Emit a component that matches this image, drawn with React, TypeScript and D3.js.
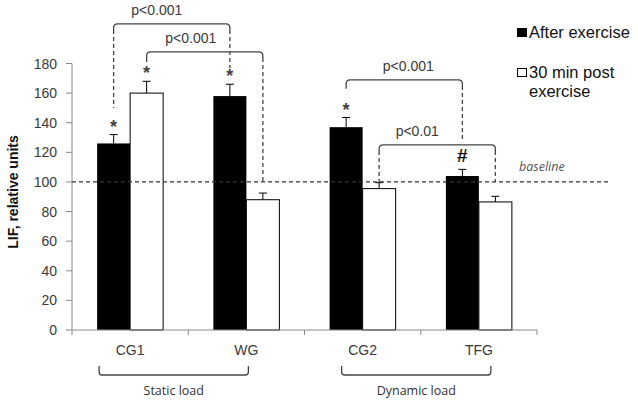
import React from "react";
import * as d3 from "d3";

const categories = ["CG1", "WG", "CG2", "TFG"];
const seriesNames = ["After exercise", "30 min post exercise"];
const afterExercise = [126, 158, 137, 104];
const afterExerciseErr = [6, 8, 6.5, 4.5];
const postExercise = [160, 88, 95.5, 86.5];
const postExerciseErr = [8, 4.5, 4, 3.8];
const yTicks = [0, 20, 40, 60, 80, 100, 120, 140, 160, 180];
const baselineValue = 100;

// comparison brackets: [category, series] endpoints, level & end values in data units
const bracketLabels = ["p<0.001", "p<0.001", "p<0.001", "p<0.01"];
const bracketFrom = [[0, 0], [0, 1], [2, 0], [2, 1]];
const bracketTo = [[1, 0], [1, 1], [3, 0], [3, 1]];
const bracketLevel = [206.7, 187.8, 168.9, 125];
const bracketFromEnd = [150, 181, 163, 100];
const bracketToEnd = [177, 100, 127, 100];

// significance markers: [category, series, symbol]
const markerCats = [0, 0, 1, 2, 3];
const markerSeries = [0, 1, 0, 0, 0];
const markerSymbols = ["*", "*", "*", "*", "#"];

const groupLabels = ["Static load", "Dynamic load"];
const groupFrom = [0, 2];
const groupTo = [1, 3];

const W = 638, H = 401;
const M = { left: 72, right: 537, top: 63.5, bottom: 330 };
const AXIS = "#8a8a8a";
const INK = "#3a3a3a";
const FONT = "'Liberation Sans', Arial, sans-serif";
const FONT2 = "'Open Sans', 'DejaVu Sans', sans-serif";

export default function App() {
  const x = d3.scaleBand<string>().domain(categories).range([M.left, M.right]).padding(0);
  const barW = 33;
  const xs = d3.scaleBand<number>().domain([0, 1]).range([-barW, barW]).padding(0);
  const y = d3.scaleLinear().domain([0, 180]).range([M.bottom, M.top]);

  const values = [afterExercise, postExercise];
  const errs = [afterExerciseErr, postExerciseErr];
  const barX = (c: number, s: number) => (x(categories[c]) as number) + x.bandwidth() / 2 + (xs(s) as number);
  const barCx = (c: number, s: number) => barX(c, s) + xs.bandwidth() / 2;

  const textDx = [-15, -14, 4, -20];
  const groupDx = [[-31, 2], [-21, 12]];

  return (
    <svg width={W} height={H} style={{ position: "absolute", left: 0, top: 0, background: "#fff" }}>
      <rect x={0} y={0} width={W} height={H} fill="#fff" />
      {/* y axis */}
      <line x1={M.left} x2={M.left} y1={y(180)} y2={y(0)} stroke={AXIS} strokeWidth={1} />
      {yTicks.map((t) => (
        <g key={t}>
          <line x1={M.left - 6} x2={M.left} y1={y(t)} y2={y(t)} stroke={AXIS} />
          <text x={57} y={y(t)} dy="0.36em" textAnchor="end" fontFamily={FONT} fontSize={14} fill={INK}>
            {t}
          </text>
        </g>
      ))}
      <text
        transform={`translate(18,192) rotate(-90)`}
        textAnchor="middle"
        fontFamily={FONT}
        fontSize={14}
        fontWeight="bold"
        fill="#111"
      >
        LIF, relative units
      </text>

      {/* bars */}
      {values.map((vals, s) =>
        vals.map((v, c) => (
          <rect
            key={`b${s}-${c}`}
            x={barX(c, s)}
            y={y(v)}
            width={xs.bandwidth()}
            height={y(0) - y(v)}
            fill={s === 0 ? "#000" : "#fff"}
            stroke="#000"
            strokeWidth={s === 0 ? 0 : 1}
          />
        ))
      )}
      {/* error bars */}
      {values.map((vals, s) =>
        vals.map((v, c) => {
          const cx = barCx(c, s);
          const top = y(v + errs[s][c]);
          return (
            <g key={`e${s}-${c}`} stroke="#000" strokeWidth={1}>
              <line x1={cx} x2={cx} y1={y(v)} y2={top} />
              <line x1={cx - 4} x2={cx + 4} y1={top} y2={top} />
            </g>
          );
        })
      )}

      {/* x axis */}
      <line x1={M.left} x2={M.right} y1={y(0)} y2={y(0)} stroke={AXIS} />
      {d3.range(categories.length + 1).map((i) => {
        const xx = M.left + i * x.bandwidth();
        return <line key={i} x1={xx} x2={xx} y1={y(0)} y2={y(0) + 5} stroke={AXIS} />;
      })}
      {categories.map((c) => (
        <text
          key={c}
          x={(x(c) as number) + x.bandwidth() / 2}
          y={355}
          textAnchor="middle"
          fontFamily={FONT}
          fontSize={14}
          fill={INK}
        >
          {c}
        </text>
      ))}

      {/* baseline */}
      <line x1={M.left} x2={610} y1={y(baselineValue)} y2={y(baselineValue)} stroke="#333" strokeWidth={1.2} strokeDasharray="4,3" />
      <text x={519} y={171} fontFamily={FONT2} fontStyle="italic" fontSize={12.5} fill="#555">
        baseline
      </text>

      {/* comparison brackets */}
      {bracketLabels.map((lab, i) => {
        const x1 = barCx(bracketFrom[i][0], bracketFrom[i][1]);
        const x2 = barCx(bracketTo[i][0], bracketTo[i][1]);
        const yl = y(bracketLevel[i]);
        const r = 4;
        const e1 = y(bracketFromEnd[i]);
        const e2 = y(bracketToEnd[i]);
        return (
          <g key={`br${i}`} fill="none" stroke="#444" strokeWidth={1.3}>
            <path d={`M${x1},${yl + r + 2} L${x1},${yl + r} Q${x1},${yl} ${x1 + r},${yl} L${x2 - r},${yl} Q${x2},${yl} ${x2},${yl + r} L${x2},${yl + r + 2}`} />
            {e1 > yl + r + 3 && <line x1={x1} x2={x1} y1={yl + r + 2} y2={e1} strokeDasharray="4,3" />}
            {e2 > yl + r + 3 && <line x1={x2} x2={x2} y1={yl + r + 2} y2={e2} strokeDasharray="4,3" />}
            <text
              x={(x1 + x2) / 2 + textDx[i]}
              y={yl - 9}
              textAnchor="middle"
              fontFamily={FONT}
              fontSize={14}
              fill={INK}
              stroke="none"
            >
              {lab}
            </text>
          </g>
        );
      })}

      {/* markers */}
      {markerSymbols.map((sym, i) => {
        const c = markerCats[i];
        const s = markerSeries[i];
        const top = y(values[s][c] + errs[s][c]);
        const cx = barCx(c, s);
        return sym === "*" ? (
          <text key={`m${i}`} x={cx} y={top - 2} textAnchor="middle" fontFamily={FONT} fontSize={18} fontWeight="bold" fill="#444">
            *
          </text>
        ) : (
          <text key={`m${i}`} x={cx} y={top - 7} textAnchor="middle" fontFamily={FONT} fontSize={19} fontWeight="bold" fill="#111">
            #
          </text>
        );
      })}

      {/* group brackets */}
      {groupLabels.map((g, i) => {
        const x1 = (x(categories[groupFrom[i]]) as number) + x.bandwidth() / 2 + groupDx[i][0];
        const x2 = (x(categories[groupTo[i]]) as number) + x.bandwidth() / 2 + groupDx[i][1];
        const yb = 375;
        return (
          <g key={g}>
            <path
              d={`M${x1},366 L${x1},${yb - 3} Q${x1},${yb} ${x1 + 3},${yb} L${x2 - 3},${yb} Q${x2},${yb} ${x2},${yb - 3} L${x2},366`}
              fill="none"
              stroke="#444"
              strokeWidth={1.3}
            />
            <text x={(x1 + x2) / 2} y={395} textAnchor="middle" fontFamily={FONT2} fontSize={12.5} fill="#333">
              {g}
            </text>
          </g>
        );
      })}

      {/* legend */}
      <rect x={517} y={28} width={10} height={9} fill="#000" />
      <text x={529} y={38} fontFamily={FONT} fontSize={16.5} fill="#111">
        {seriesNames[0]}
      </text>
      <rect x={517.5} y={68.5} width={9} height={8} fill="#fff" stroke="#000" strokeWidth={1} />
      <text x={529} y={78} fontFamily={FONT} fontSize={16.5} fill="#111">
        30 min post
      </text>
      <text x={529} y={97} fontFamily={FONT} fontSize={16.5} fill="#111">
        exercise
      </text>
    </svg>
  );
}
